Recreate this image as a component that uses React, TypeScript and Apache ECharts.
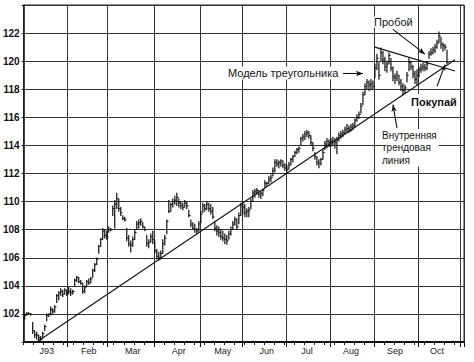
import React, { useEffect, useRef } from "react";
import * as echarts from "echarts";

// Daily bars: [high, low, close]
const janBars: number[][] = [
  [102.0, 101.6, 101.9], [102.1, 101.9, 102.05], [102.1, 101.95, 102.0], [102.05, 101.9, 101.95],
  [101.4, 100.6, 100.8], [100.8, 100.3, 100.5], [100.7, 100.2, 100.5], [100.5, 100.1, 100.3],
  [100.4, 100.05, 100.2], [100.7, 100.3, 100.6], [101.2, 100.8, 101.1], [102.0, 101.5, 101.9],
  [102.0, 101.8, 102.0], [102.5, 101.9, 102.3], [102.4, 102.0, 102.2], [102.6, 102.1, 102.5],
  [103.4, 102.8, 103.3], [103.6, 103.0, 103.5], [103.8, 103.3, 103.6], [103.7, 103.2, 103.4],
  [103.8, 103.4, 103.7], [103.7, 103.3, 103.5],
];
const febBars: number[][] = [
  [103.9, 103.4, 103.6], [103.8, 103.3, 103.5], [103.7, 103.4, 103.6], [104.5, 104.0, 104.4],
  [104.7, 104.3, 104.6], [104.6, 104.2, 104.3], [104.4, 104.1, 104.2], [104.2, 103.45, 103.6],
  [104.0, 103.5, 103.9], [104.4, 104.0, 104.3], [104.5, 104.1, 104.2], [104.6, 104.2, 104.5],
  [105.2, 104.6, 105.1], [105.6, 105.0, 105.5], [106.0, 105.5, 105.9], [106.9, 106.3, 106.8],
  [107.4, 106.8, 107.3], [108.1, 107.3, 107.9], [108.0, 107.4, 107.6], [107.9, 107.3, 107.5],
];
const marBars: number[][] = [
  [108.2, 107.8, 108.0], [108.1, 107.9, 108.0], [109.7, 109.0, 109.5], [110.1, 108.1, 109.8],
  [110.6, 109.5, 110.2], [110.2, 109.3, 109.5], [109.6, 109.0, 109.2], [109.0, 108.7, 108.8],
  [108.9, 108.6, 108.7], [108.1, 107.2, 107.4], [107.6, 106.8, 107.0], [107.2, 106.4, 106.9],
  [107.5, 106.8, 107.3], [108.0, 107.3, 107.8], [108.6, 108.0, 108.4], [108.7, 108.1, 108.5],
  [108.8, 108.3, 108.6], [108.5, 108.1, 108.2], [108.2, 107.9, 108.0], [107.6, 106.8, 107.0],
  [107.3, 106.7, 107.1], [107.7, 107.1, 107.5], [107.9, 107.0, 107.3],
];
const aprBars: number[][] = [
  [107.2, 106.3, 106.5], [106.6, 105.9, 106.1], [106.4, 105.8, 106.0], [106.5, 105.9, 106.3],
  [107.3, 106.3, 107.0], [107.6, 106.9, 107.4], [108.7, 107.7, 108.6], [110.1, 109.2, 109.3],
  [109.9, 109.3, 109.8], [110.2, 109.6, 110.0], [110.4, 109.8, 110.1], [110.6, 109.7, 110.3],
  [110.2, 109.6, 109.9], [110.0, 109.5, 109.7], [109.9, 109.4, 109.6], [110.1, 109.6, 109.9],
  [110.0, 109.5, 109.7], [109.4, 108.9, 109.0], [108.7, 108.2, 108.4], [108.5, 108.0, 108.1],
  [108.4, 107.8, 108.0], [108.1, 107.7, 107.9], [108.6, 107.9, 108.4],
];
const mayBars: number[][] = [
  [109.3, 108.5, 109.1], [109.9, 109.2, 109.7], [109.8, 109.3, 109.5], [110.0, 109.4, 109.8],
  [109.9, 109.3, 109.5], [109.8, 109.1, 109.3], [109.6, 108.8, 108.9], [108.6, 107.9, 108.1],
  [108.3, 107.6, 107.9], [108.2, 107.5, 107.8], [108.0, 107.3, 107.5], [107.9, 107.2, 107.4],
  [107.7, 107.0, 107.3], [107.6, 106.95, 107.2], [107.9, 107.3, 107.7], [108.2, 107.6, 108.0],
  [108.6, 108.0, 108.4], [108.9, 108.3, 108.7], [108.8, 108.0, 108.2], [109.2, 108.4, 109.0],
  [109.9, 109.0, 109.7],
];
const junBars: number[][] = [
  [109.9, 109.1, 109.6], [109.8, 108.9, 109.2], [109.5, 108.9, 109.3], [109.6, 108.9, 109.4],
  [110.2, 109.5, 110.0], [110.8, 110.0, 110.6], [110.9, 110.3, 110.7], [110.95, 110.5, 110.8],
  [110.8, 110.3, 110.5], [110.7, 110.2, 110.6], [110.9, 110.4, 110.8], [111.5, 111.0, 111.3],
  [111.4, 111.1, 111.3], [111.8, 111.3, 111.6], [111.9, 111.4, 111.7], [112.4, 111.8, 112.2],
  [113.0, 112.1, 112.8], [113.0, 112.5, 112.7], [112.9, 112.4, 112.8], [113.0, 112.5, 112.9],
  [112.9, 112.4, 112.6], [112.7, 112.2, 112.4],
];
const julBars: number[][] = [
  [112.6, 112.1, 112.3], [112.8, 112.3, 112.6], [113.1, 112.6, 113.0], [113.3, 112.8, 113.2],
  [113.6, 113.2, 113.5], [113.8, 113.4, 113.7], [113.9, 113.5, 113.8], [114.6, 114.0, 114.5],
  [114.8, 114.3, 114.6], [115.0, 114.4, 114.8], [115.1, 114.6, 114.9], [115.0, 114.5, 114.7],
  [114.7, 114.0, 114.2], [114.2, 113.6, 113.8], [113.5, 113.0, 113.2], [113.2, 112.6, 112.8],
  [113.0, 112.4, 112.7], [113.1, 112.6, 113.0], [113.7, 113.0, 113.5], [114.3, 113.7, 114.1],
  [114.5, 113.8, 114.3], [114.4, 113.9, 114.2], [114.5, 113.9, 114.3],
];
const augBars: number[][] = [
  [114.6, 114.0, 114.3], [114.5, 113.8, 114.2], [114.6, 113.4, 114.4], [114.9, 114.3, 114.7],
  [115.0, 114.5, 114.8], [115.1, 114.6, 114.9], [115.3, 114.8, 115.1], [115.5, 114.9, 115.2],
  [115.4, 114.9, 115.1], [115.5, 115.0, 115.3], [115.6, 115.1, 115.4], [115.9, 115.3, 115.8],
  [116.2, 115.7, 116.0], [116.4, 115.9, 116.2], [117.0, 116.3, 116.8], [117.8, 116.9, 117.6],
  [118.4, 117.6, 118.2], [118.7, 118.0, 118.5], [118.6, 117.9, 118.3], [118.7, 118.0, 118.4],
  [118.6, 118.0, 118.2],
];
const sepBars: number[][] = [
  [119.8, 118.8, 119.5], [120.5, 119.4, 120.2], [119.9, 118.7, 119.0], [120.95, 120.0, 120.6],
  [120.7, 119.8, 120.1], [120.3, 119.3, 119.6], [120.0, 119.2, 119.8], [120.6, 119.8, 120.4],
  [120.2, 119.3, 119.5], [119.6, 118.6, 118.9], [119.1, 118.4, 118.8], [119.3, 118.6, 119.0],
  [119.0, 118.3, 118.5], [118.7, 117.9, 118.2], [118.4, 117.6, 117.9], [118.3, 117.7, 118.1],
  [119.2, 118.5, 119.0], [120.2, 119.3, 119.9], [120.0, 119.4, 119.6], [119.7, 118.8, 119.1],
  [119.3, 118.4, 118.7], [119.4, 118.3, 119.0],
];
const octBars: number[][] = [
  [119.6, 118.9, 119.4], [119.8, 119.2, 119.5], [119.9, 119.3, 119.6], [119.8, 119.3, 119.5],
  [120.0, 119.4, 119.8], [120.7, 120.2, 120.5], [120.9, 120.4, 120.6], [121.0, 120.5, 120.8],
  [121.2, 120.6, 121.0], [121.5, 120.9, 121.3], [122.1, 121.3, 121.8], [121.7, 120.9, 121.2],
  [121.3, 120.7, 121.1], [121.2, 120.8, 121.0], [120.8, 119.8, 119.9],
];

const dayCount = 220;
const monthLabels = ["J93", "Feb", "Mar", "Apr", "May", "Jun", "Jul", "Aug", "Sep", "Oct"];
const monthLabelDays = [11, 32, 54, 77, 99, 121, 141, 163, 185, 206];
const monthStartDays = [22, 42, 65, 88, 109, 131, 153, 175, 197, 218];
const yMin = 100;
const yMax = 124;
const yStep = 2;

// Trend lines and arrows in data coordinates [day, price]
const innerTrend = [[6, 100.0], [215, 120.1]];
const triangleTop = [[175, 121.0], [215, 119.3]];
const breakoutArrow = [[184, 122.26], [200, 120.5]];
const triangleArrow = [[159, 119.12], [169, 119.12]];
const trendArrow = [[186, 115.25], [184, 116.9]];
const buyArrow = [[206, 118.2], [210, 119.75]];

const allBars = [
  ...janBars, ...febBars, ...marBars, ...aprBars, ...mayBars,
  ...junBars, ...julBars, ...augBars, ...sepBars, ...octBars,
];

const FONT = '"Liberation Sans", Arial, sans-serif';
const INK = "#111";

export default function App() {
  const ref = useRef<HTMLDivElement>(null);
  useEffect(() => {
    if (!ref.current) return;
    const chart = echarts.init(ref.current, undefined, { renderer: "svg" });
    const categories = Array.from({ length: dayCount }, (_, i) => String(i));
    const seriesData = allBars.map((b, i) => [i, b[0], b[1], b[2]]);
    const lineItem = (pts: number[][], arrow: boolean, extra: any = {}) => [
      { coord: pts[0], symbol: "none" },
      {
        coord: pts[1],
        symbol: arrow ? "arrow" : "none",
        symbolSize: arrow ? [4, 7] : 0,
        ...extra,
      },
    ];
    const option: any = {
      animation: false,
      backgroundColor: "#fff",
      grid: {
        left: 22,
        right: 10,
        top: 5,
        bottom: 20,
        show: true,
        borderColor: "#222",
        borderWidth: 1,
        containLabel: false,
      },
      xAxis: [
        {
          type: "category",
          data: categories,
          boundaryGap: true,
          axisLine: { show: true, lineStyle: { color: INK, width: 2 } },
          axisTick: {
            show: true,
            length: 3,
            interval: (index: number) => index % 5 === 0,
            lineStyle: { color: INK, width: 1 },
          },
          splitLine: {
            show: true,
            interval: (index: number) => monthStartDays.includes(index),
            lineStyle: { color: "#333", width: 1 },
          },
          axisLabel: {
            show: true,
            interval: (index: number) => monthLabelDays.includes(index),
            formatter: (_v: string, index: number) => monthLabels[monthLabelDays.indexOf(index)] ?? "",
            fontFamily: FONT,
            fontSize: 9,
            color: "#222",
            margin: 4,
          },
        },
        {
          type: "category",
          data: categories,
          boundaryGap: true,
          position: "bottom",
          axisLine: { show: false },
          axisTick: {
            show: true,
            length: 5,
            interval: (index: number) => monthStartDays.includes(index),
            lineStyle: { color: INK, width: 1 },
          },
          splitLine: { show: false },
          axisLabel: { show: false },
        },
      ],
      yAxis: {
        type: "value",
        min: yMin,
        max: yMax,
        interval: yStep,
        axisLine: { show: true, lineStyle: { color: INK, width: 1.5 } },
        axisTick: { show: true, length: 2, lineStyle: { color: INK } },
        splitLine: { show: true, lineStyle: { color: "#333", width: 1 } },
        axisLabel: {
          formatter: (v: number) => (v === yMin || v === yMax ? "" : String(v)),
          fontFamily: FONT,
          fontSize: 10,
          fontWeight: "bold",
          color: INK,
          margin: 4,
        },
      },
      series: [
        {
          type: "custom",
          xAxisIndex: 0,
          yAxisIndex: 0,
          data: seriesData,
          encode: { x: 0, y: [1, 2, 3] },
          silent: true,
          renderItem: (_params: any, api: any) => {
            const x = api.value(0);
            const pH = api.coord([x, api.value(1)]);
            const pL = api.coord([x, api.value(2)]);
            const pC = api.coord([x, api.value(3)]);
            return {
              type: "group",
              children: [
                {
                  type: "line",
                  shape: { x1: pH[0], y1: pH[1] - 0.3, x2: pL[0], y2: pL[1] + 0.3 },
                  style: { stroke: INK, lineWidth: 1.2 },
                },
                {
                  type: "line",
                  shape: { x1: pC[0], y1: pC[1], x2: pC[0] + 1.8, y2: pC[1] },
                  style: { stroke: INK, lineWidth: 1 },
                },
              ],
            };
          },
          markLine: {
            silent: true,
            animation: false,
            label: { show: false },
            lineStyle: { color: INK, width: 1.1, type: "solid" },
            data: [
              lineItem(innerTrend, false),
              lineItem(triangleTop, false),
              lineItem(breakoutArrow, true),
              lineItem(triangleArrow, true),
              lineItem(trendArrow, true),
              [
                { coord: buyArrow[0], symbol: "none", lineStyle: { curveness: 0.5 } },
                { coord: buyArrow[1], symbol: "arrow", symbolSize: [4, 6] },
              ],
            ],
          },
        },
      ],
      graphic: [
        {
          type: "text",
          x: 374,
          y: 22,
          z: 20,
          style: {
            text: "Пробой",
            fontFamily: FONT,
            fontSize: 11,
            fill: INK,
            verticalAlign: "middle",
            align: "left",
            backgroundColor: "#fff",
          },
        },
        {
          type: "text",
          x: 227,
          y: 73,
          z: 20,
          style: {
            text: "Модель треугольника",
            fontFamily: FONT,
            fontSize: 11,
            fill: INK,
            verticalAlign: "middle",
            align: "left",
            backgroundColor: "#fff",
            padding: [1, 1],
          },
        },
        {
          type: "text",
          x: 410,
          y: 101.5,
          z: 20,
          style: {
            text: "Покупай",
            fontFamily: FONT,
            fontSize: 11,
            fontWeight: "bold",
            fill: INK,
            verticalAlign: "middle",
            align: "left",
            backgroundColor: "#fff",
            padding: [2, 1],
          },
        },
        {
          type: "text",
          x: 382,
          y: 129,
          z: 20,
          style: {
            text: "Внутренняя\nтрендовая\nлиния",
            fontFamily: FONT,
            fontSize: 10,
            lineHeight: 12.5,
            fill: INK,
            verticalAlign: "top",
            align: "left",
            backgroundColor: "#fff",
            padding: [0, 2, 0, 0],
          },
        },
      ],
    };
    chart.setOption(option);
    return () => chart.dispose();
  }, []);
  return (
    <div
      ref={ref}
      style={{ position: "fixed", left: 0, top: 0, width: 474, height: 362, background: "#fff" }}
    />
  );
}
